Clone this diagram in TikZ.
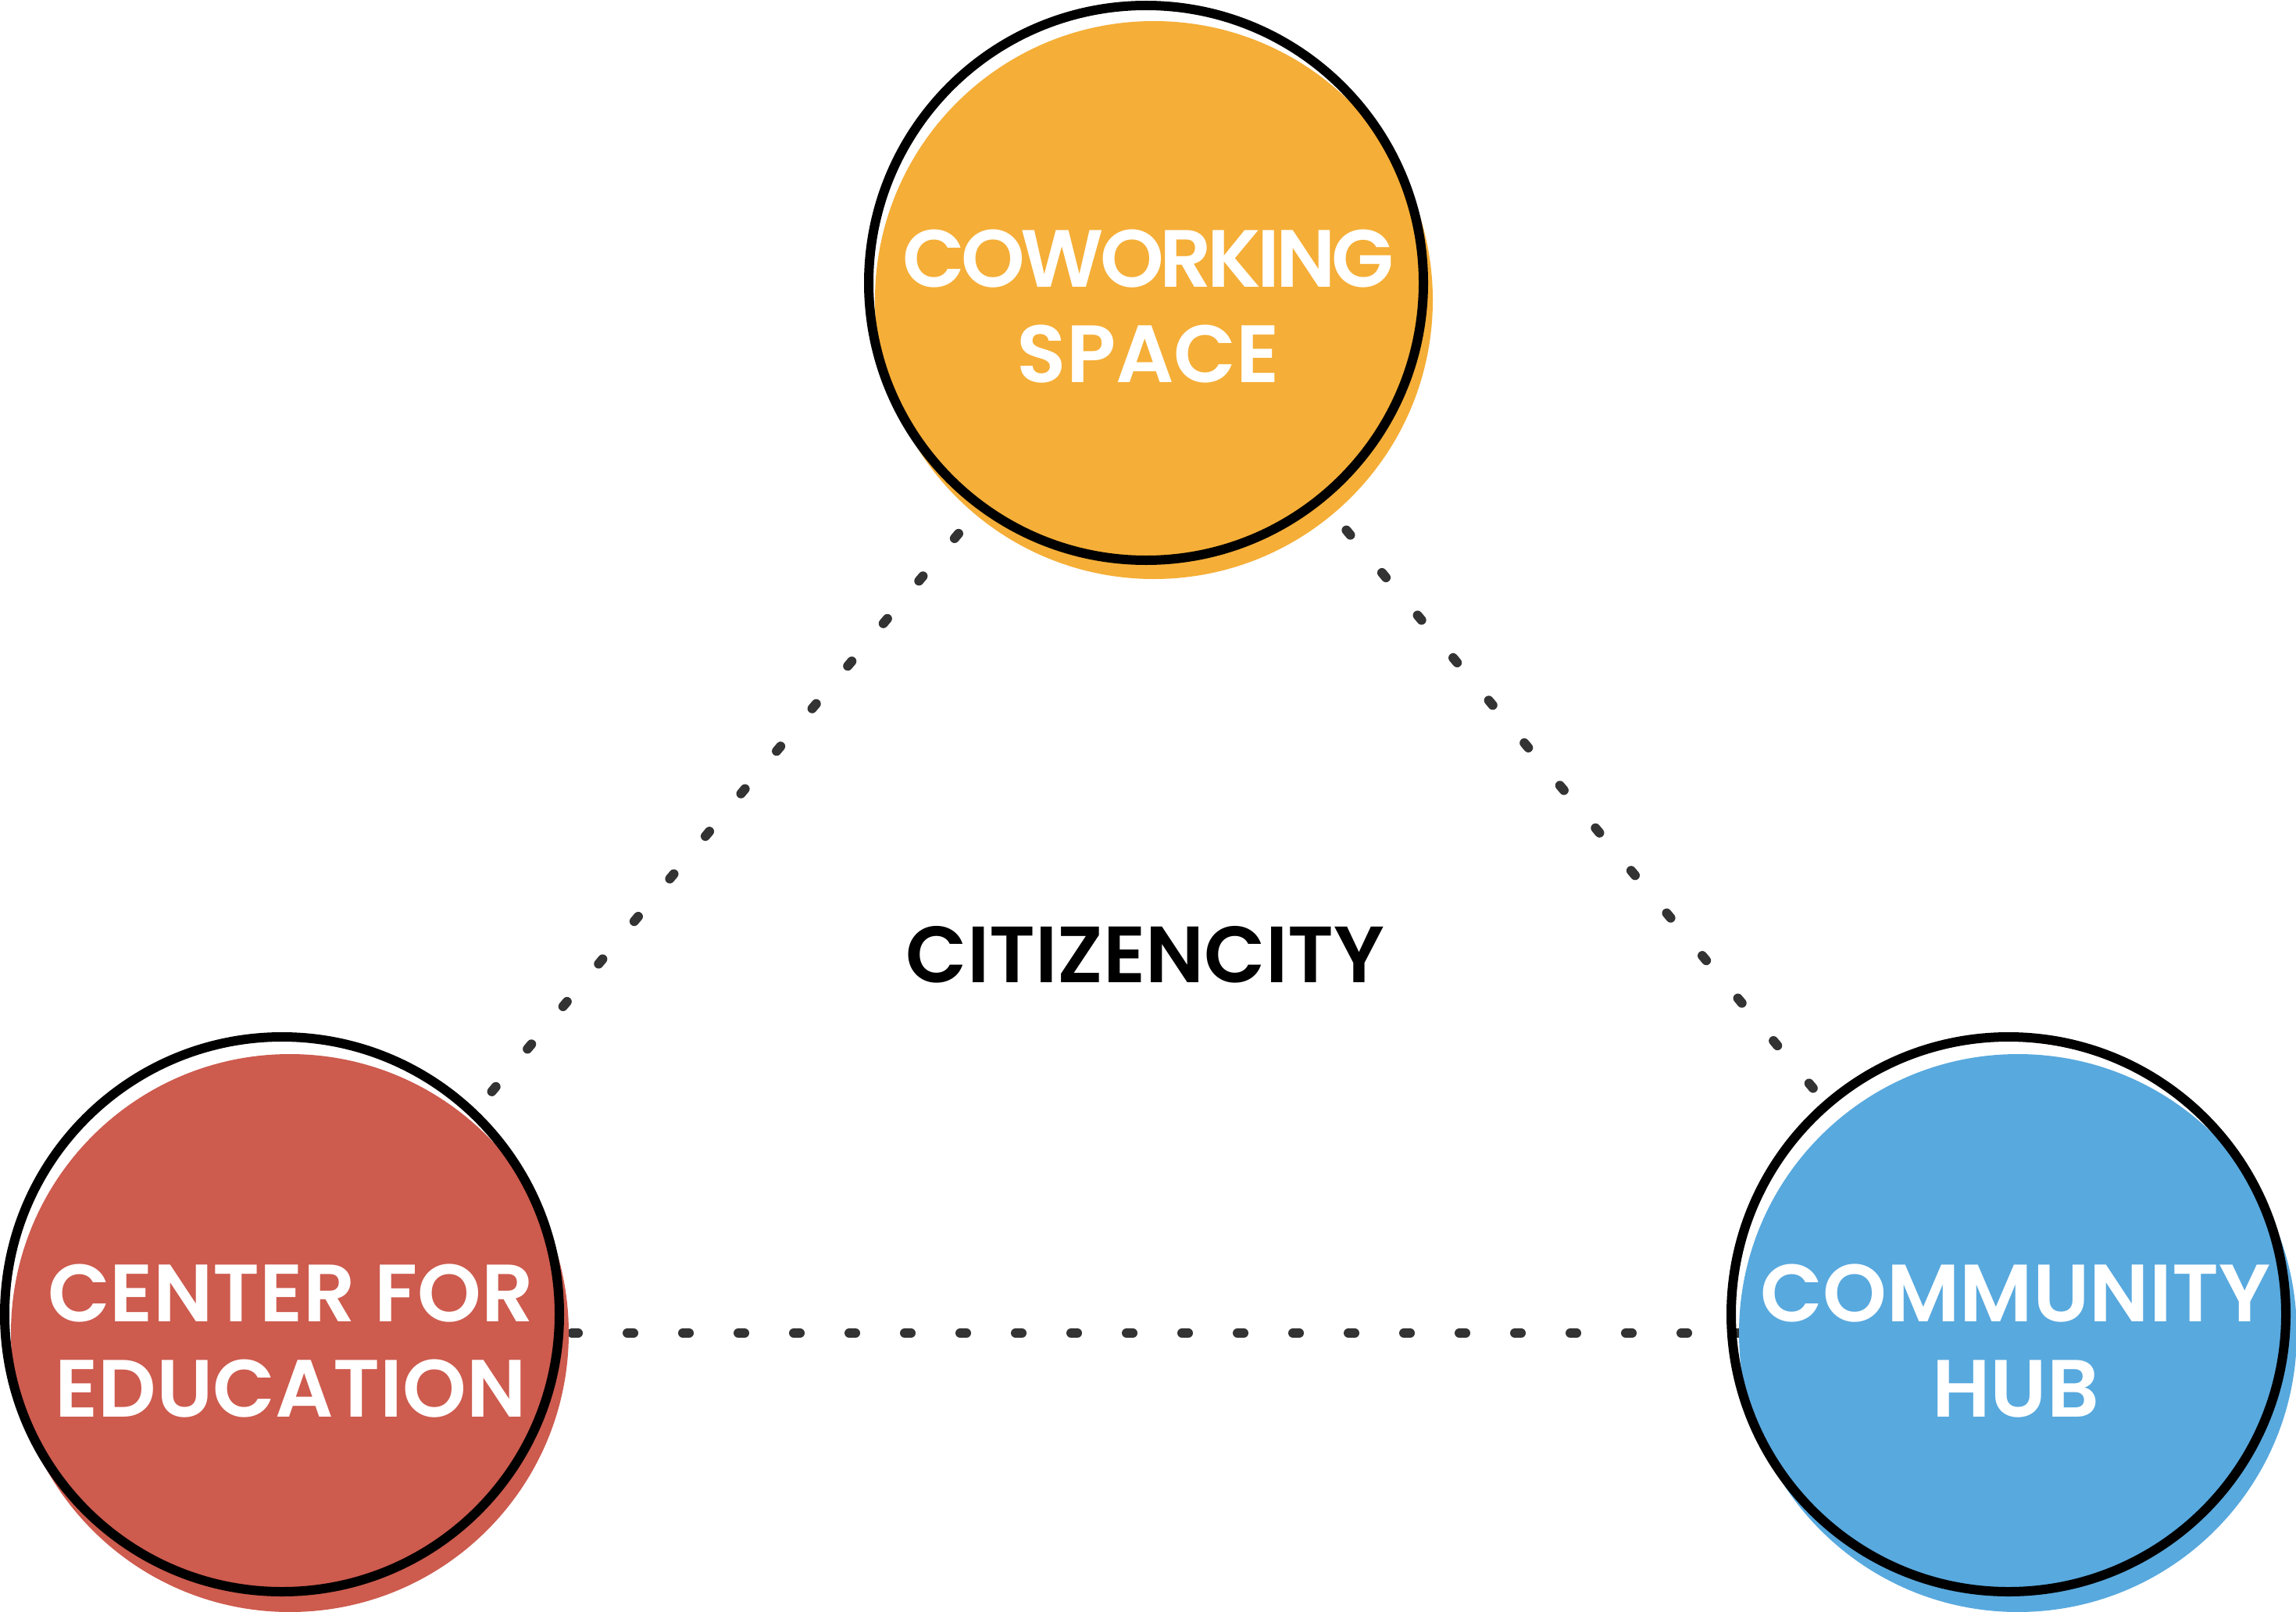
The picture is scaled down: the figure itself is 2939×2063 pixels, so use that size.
\documentclass[tikz,border=0pt]{standalone}
\usepackage{fontspec}
\newfontfamily\popsb{Poppins SemiBold}
\definecolor{cworange}{HTML}{F5AE37}
\definecolor{edured}{HTML}{CD5B4E}
\definecolor{hubblue}{HTML}{58A9DE}
\definecolor{dotgray}{HTML}{333333}
\tikzset{
  fillcirc/.style={circle, inner sep=0pt, outer sep=0pt, minimum size=714pt},
  ringcirc/.style={circle, draw=black, line width=12pt, inner sep=0pt, outer sep=0pt, minimum size=710pt},
  circlabel/.style={text=white, align=center, font=\popsb\fontsize{104}{122}\selectfont},
  biglabel/.style={text=black, font=\popsb\fontsize{102}{122}\selectfont},
  dotline/.style={draw=dotgray, line width=12pt, line cap=round, dash pattern=on 8pt off 63pt}
}
\begin{document}
\begin{tikzpicture}[x=1pt, y=-1pt]
\fill[white] (0,0) rectangle (2939,2063);
\useasboundingbox (0,0) rectangle (2939,2063);
% coloured discs
\node[fillcirc] (cw)  at (1477,384)  {};
\node[fillcirc] (edu) at (371,1706)  {};
\node[fillcirc] (hub) at (2583,1706) {};
% dotted connectors (behind the discs)
\draw[dotline, dash phase=65pt] (edu.center) -- (hub.center);
\draw[dotline, dash phase=23pt] (edu.center) -- (cw.center);
\draw[dotline, dash phase=42pt] (cw.center) -- (hub.center);
% fills drawn on top of the connectors
\fill[cworange] (cw.center) circle (357pt);
\fill[edured] (edu.center) circle (357pt);
\fill[hubblue] (hub.center) circle (357pt);
% black rings
\node[ringcirc] (cwring)  at (1467,362)  {};
\node[ringcirc] (eduring) at (361,1682)  {};
\node[ringcirc] (hubring) at (2571,1682) {};
% labels
\node[circlabel] (cwlabel)  at (1470,392)  {{\addfontfeatures{LetterSpace=-5}COWORKING}\\SPACE};
\node[circlabel] (edulabel) at (372,1716)  {CENTER FOR\\EDUCATION};
\node[circlabel] (hublabel) at (2580,1716) {COMMUNITY\\HUB};
\node[biglabel] (title) at (1466,1222) {CITIZENCITY};
\end{tikzpicture}
\end{document}
